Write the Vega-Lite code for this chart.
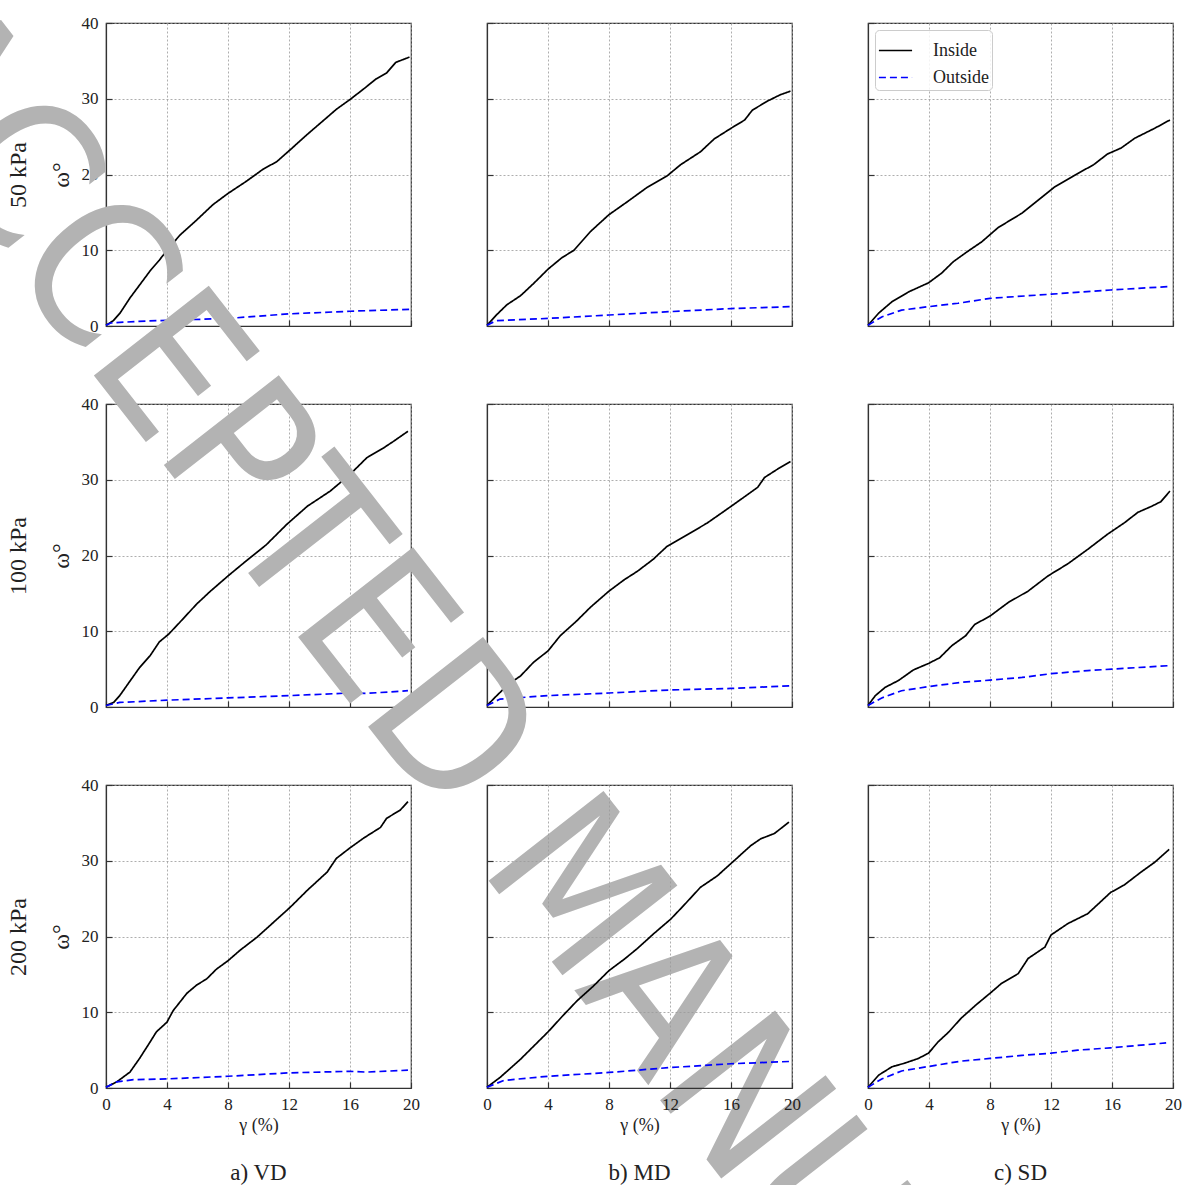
{
  "$schema": "https://vega.github.io/schema/vega-lite/v6.json",
  "padding": {"left": -178, "top": -30, "right": -130, "bottom": -570},
  "background": "white",
  "columns": 3,
  "bounds": "flush",
  "spacing": {"row": 78, "column": 76},
  "datasets": {
    "VD50": [
      {"s":"Inside","x":0,"y":0.1},{"s":"Inside","x":0.48,"y":0.7},{"s":"Inside","x":0.92,"y":1.7},{"s":"Inside","x":1.57,"y":3.7},{"s":"Inside","x":2.2,"y":5.4},{"s":"Inside","x":2.9,"y":7.3},{"s":"Inside","x":3.5,"y":8.7},{"s":"Inside","x":4.0,"y":10.0},{"s":"Inside","x":4.85,"y":12.0},{"s":"Inside","x":5.95,"y":14.0},{"s":"Inside","x":7.0,"y":16.0},{"s":"Inside","x":8.0,"y":17.5},{"s":"Inside","x":9.2,"y":19.1},{"s":"Inside","x":10.3,"y":20.7},{"s":"Inside","x":11.2,"y":21.7},{"s":"Inside","x":12.1,"y":23.3},{"s":"Inside","x":13.2,"y":25.3},{"s":"Inside","x":14.3,"y":27.2},{"s":"Inside","x":15.1,"y":28.6},{"s":"Inside","x":16.0,"y":29.9},{"s":"Inside","x":16.9,"y":31.3},{"s":"Inside","x":17.7,"y":32.6},{"s":"Inside","x":18.4,"y":33.4},{"s":"Inside","x":19.0,"y":34.8},{"s":"Inside","x":19.9,"y":35.5},
      {"s":"Outside","x":0,"y":0.1},{"s":"Outside","x":0.3,"y":0.4},{"s":"Outside","x":2,"y":0.6},{"s":"Outside","x":4,"y":0.75},{"s":"Outside","x":8,"y":1.0},{"s":"Outside","x":12,"y":1.6},{"s":"Outside","x":16,"y":1.95},{"s":"Outside","x":19.9,"y":2.2}
    ],
    "MD50": [
      {"s":"Inside","x":0,"y":0.1},{"s":"Inside","x":0.64,"y":1.5},{"s":"Inside","x":1.3,"y":2.8},{"s":"Inside","x":2.2,"y":4.0},{"s":"Inside","x":3.05,"y":5.6},{"s":"Inside","x":4.0,"y":7.5},{"s":"Inside","x":4.9,"y":9.0},{"s":"Inside","x":5.7,"y":10.0},{"s":"Inside","x":6.8,"y":12.5},{"s":"Inside","x":8.0,"y":14.7},{"s":"Inside","x":9.2,"y":16.4},{"s":"Inside","x":10.5,"y":18.3},{"s":"Inside","x":11.8,"y":19.8},{"s":"Inside","x":12.7,"y":21.3},{"s":"Inside","x":14.0,"y":23.0},{"s":"Inside","x":14.9,"y":24.7},{"s":"Inside","x":16.0,"y":26.1},{"s":"Inside","x":16.9,"y":27.2},{"s":"Inside","x":17.4,"y":28.5},{"s":"Inside","x":18.4,"y":29.7},{"s":"Inside","x":19.2,"y":30.5},{"s":"Inside","x":19.9,"y":31.0},
      {"s":"Outside","x":0,"y":0.1},{"s":"Outside","x":0.6,"y":0.7},{"s":"Outside","x":4,"y":1.0},{"s":"Outside","x":8,"y":1.45},{"s":"Outside","x":12,"y":1.9},{"s":"Outside","x":16,"y":2.3},{"s":"Outside","x":19.9,"y":2.55}
    ],
    "SD50": [
      {"s":"Inside","x":0,"y":0.1},{"s":"Inside","x":0.7,"y":1.7},{"s":"Inside","x":1.57,"y":3.2},{"s":"Inside","x":2.66,"y":4.5},{"s":"Inside","x":3.97,"y":5.7},{"s":"Inside","x":4.84,"y":7.0},{"s":"Inside","x":5.6,"y":8.5},{"s":"Inside","x":6.5,"y":9.8},{"s":"Inside","x":7.45,"y":11.1},{"s":"Inside","x":8.54,"y":13.0},{"s":"Inside","x":10.1,"y":14.9},{"s":"Inside","x":11.4,"y":17.0},{"s":"Inside","x":12.2,"y":18.3},{"s":"Inside","x":13.55,"y":19.9},{"s":"Inside","x":14.8,"y":21.3},{"s":"Inside","x":15.7,"y":22.7},{"s":"Inside","x":16.6,"y":23.5},{"s":"Inside","x":17.5,"y":24.8},{"s":"Inside","x":18.8,"y":26.1},{"s":"Inside","x":19.8,"y":27.2},
      {"s":"Outside","x":0,"y":0.1},{"s":"Outside","x":0.9,"y":1.2},{"s":"Outside","x":2.2,"y":2.1},{"s":"Outside","x":3.97,"y":2.55},{"s":"Outside","x":5.9,"y":3.0},{"s":"Outside","x":8.0,"y":3.65},{"s":"Outside","x":12.0,"y":4.2},{"s":"Outside","x":15.9,"y":4.75},{"s":"Outside","x":19.65,"y":5.2}
    ],
    "VD100": [
      {"s":"Inside","x":0,"y":0.2},{"s":"Inside","x":0.5,"y":0.6},{"s":"Inside","x":0.9,"y":1.5},{"s":"Inside","x":1.6,"y":3.5},{"s":"Inside","x":2.2,"y":5.2},{"s":"Inside","x":2.9,"y":6.8},{"s":"Inside","x":3.5,"y":8.6},{"s":"Inside","x":4.1,"y":9.6},{"s":"Inside","x":4.85,"y":11.2},{"s":"Inside","x":5.95,"y":13.6},{"s":"Inside","x":6.8,"y":15.2},{"s":"Inside","x":8.0,"y":17.3},{"s":"Inside","x":9.2,"y":19.3},{"s":"Inside","x":10.5,"y":21.4},{"s":"Inside","x":11.85,"y":24.1},{"s":"Inside","x":13.2,"y":26.5},{"s":"Inside","x":14.7,"y":28.5},{"s":"Inside","x":16.0,"y":30.7},{"s":"Inside","x":17.1,"y":32.9},{"s":"Inside","x":18.2,"y":34.2},{"s":"Inside","x":18.8,"y":35.0},{"s":"Inside","x":19.8,"y":36.4},
      {"s":"Outside","x":0,"y":0.2},{"s":"Outside","x":0.9,"y":0.6},{"s":"Outside","x":4,"y":0.9},{"s":"Outside","x":8,"y":1.2},{"s":"Outside","x":12,"y":1.5},{"s":"Outside","x":16,"y":1.85},{"s":"Outside","x":17.1,"y":1.8},{"s":"Outside","x":19.8,"y":2.15}
    ],
    "MD100": [
      {"s":"Inside","x":0,"y":0.2},{"s":"Inside","x":0.64,"y":1.5},{"s":"Inside","x":1.4,"y":3.0},{"s":"Inside","x":2.2,"y":4.1},{"s":"Inside","x":3.05,"y":5.9},{"s":"Inside","x":4.0,"y":7.4},{"s":"Inside","x":4.8,"y":9.4},{"s":"Inside","x":5.9,"y":11.4},{"s":"Inside","x":6.8,"y":13.2},{"s":"Inside","x":8.0,"y":15.3},{"s":"Inside","x":9.0,"y":16.8},{"s":"Inside","x":9.85,"y":17.9},{"s":"Inside","x":10.9,"y":19.5},{"s":"Inside","x":11.8,"y":21.2},{"s":"Inside","x":13.1,"y":22.7},{"s":"Inside","x":14.45,"y":24.3},{"s":"Inside","x":15.8,"y":26.2},{"s":"Inside","x":16.85,"y":27.7},{"s":"Inside","x":17.75,"y":29.0},{"s":"Inside","x":18.2,"y":30.3},{"s":"Inside","x":19.05,"y":31.4},{"s":"Inside","x":19.9,"y":32.4},
      {"s":"Outside","x":0,"y":0.2},{"s":"Outside","x":0.86,"y":1.05},{"s":"Outside","x":4,"y":1.5},{"s":"Outside","x":8,"y":1.85},{"s":"Outside","x":12,"y":2.25},{"s":"Outside","x":16,"y":2.45},{"s":"Outside","x":19.9,"y":2.8}
    ],
    "SD100": [
      {"s":"Inside","x":0,"y":0.2},{"s":"Inside","x":0.48,"y":1.5},{"s":"Inside","x":1.13,"y":2.6},{"s":"Inside","x":2.0,"y":3.5},{"s":"Inside","x":2.98,"y":4.9},{"s":"Inside","x":3.97,"y":5.75},{"s":"Inside","x":4.7,"y":6.5},{"s":"Inside","x":5.5,"y":8.1},{"s":"Inside","x":6.4,"y":9.4},{"s":"Inside","x":7.0,"y":10.9},{"s":"Inside","x":8.0,"y":12.0},{"s":"Inside","x":9.2,"y":13.8},{"s":"Inside","x":10.5,"y":15.3},{"s":"Inside","x":11.8,"y":17.3},{"s":"Inside","x":13.1,"y":18.9},{"s":"Inside","x":14.4,"y":20.8},{"s":"Inside","x":15.7,"y":22.8},{"s":"Inside","x":16.8,"y":24.3},{"s":"Inside","x":17.7,"y":25.7},{"s":"Inside","x":18.6,"y":26.5},{"s":"Inside","x":19.2,"y":27.1},{"s":"Inside","x":19.8,"y":28.5},
      {"s":"Outside","x":0,"y":0.2},{"s":"Outside","x":0.9,"y":1.2},{"s":"Outside","x":2.2,"y":2.15},{"s":"Outside","x":4.0,"y":2.7},{"s":"Outside","x":6.1,"y":3.25},{"s":"Outside","x":8,"y":3.55},{"s":"Outside","x":10.1,"y":3.9},{"s":"Outside","x":12,"y":4.4},{"s":"Outside","x":14.4,"y":4.8},{"s":"Outside","x":16,"y":5.0},{"s":"Outside","x":19.65,"y":5.45}
    ],
    "VD200": [
      {"s":"Inside","x":0,"y":0.1},{"s":"Inside","x":0.7,"y":0.8},{"s":"Inside","x":1.57,"y":2.1},{"s":"Inside","x":2.2,"y":3.9},{"s":"Inside","x":2.9,"y":6.1},{"s":"Inside","x":3.3,"y":7.4},{"s":"Inside","x":4.0,"y":8.7},{"s":"Inside","x":4.4,"y":10.2},{"s":"Inside","x":5.3,"y":12.5},{"s":"Inside","x":5.95,"y":13.6},{"s":"Inside","x":6.6,"y":14.4},{"s":"Inside","x":7.25,"y":15.7},{"s":"Inside","x":8.0,"y":16.8},{"s":"Inside","x":8.8,"y":18.2},{"s":"Inside","x":9.9,"y":19.9},{"s":"Inside","x":11.0,"y":21.9},{"s":"Inside","x":12.1,"y":23.9},{"s":"Inside","x":13.2,"y":26.1},{"s":"Inside","x":14.5,"y":28.5},{"s":"Inside","x":15.1,"y":30.3},{"s":"Inside","x":16.0,"y":31.7},{"s":"Inside","x":16.9,"y":33.0},{"s":"Inside","x":18.0,"y":34.4},{"s":"Inside","x":18.4,"y":35.6},{"s":"Inside","x":19.3,"y":36.7},{"s":"Inside","x":19.8,"y":37.8},
      {"s":"Outside","x":0,"y":0.1},{"s":"Outside","x":0.7,"y":0.8},{"s":"Outside","x":1.8,"y":1.1},{"s":"Outside","x":4,"y":1.2},{"s":"Outside","x":8,"y":1.55},{"s":"Outside","x":12,"y":2.0},{"s":"Outside","x":16,"y":2.2},{"s":"Outside","x":17.1,"y":2.1},{"s":"Outside","x":19.8,"y":2.35}
    ],
    "MD200": [
      {"s":"Inside","x":0,"y":0.1},{"s":"Inside","x":0.86,"y":1.4},{"s":"Inside","x":2.2,"y":3.8},{"s":"Inside","x":3.3,"y":6.0},{"s":"Inside","x":4.0,"y":7.4},{"s":"Inside","x":5.0,"y":9.6},{"s":"Inside","x":5.9,"y":11.5},{"s":"Inside","x":7.0,"y":13.5},{"s":"Inside","x":8.0,"y":15.5},{"s":"Inside","x":9.0,"y":17.0},{"s":"Inside","x":9.85,"y":18.4},{"s":"Inside","x":10.95,"y":20.4},{"s":"Inside","x":12.05,"y":22.3},{"s":"Inside","x":12.9,"y":24.1},{"s":"Inside","x":14.0,"y":26.5},{"s":"Inside","x":15.1,"y":28.0},{"s":"Inside","x":16.2,"y":30.0},{"s":"Inside","x":17.3,"y":32.0},{"s":"Inside","x":17.95,"y":32.9},{"s":"Inside","x":18.85,"y":33.6},{"s":"Inside","x":19.8,"y":35.1},
      {"s":"Outside","x":0,"y":0.1},{"s":"Outside","x":1.1,"y":1.0},{"s":"Outside","x":4,"y":1.55},{"s":"Outside","x":8,"y":2.05},{"s":"Outside","x":12,"y":2.7},{"s":"Outside","x":16,"y":3.2},{"s":"Outside","x":19.8,"y":3.5}
    ],
    "SD200": [
      {"s":"Inside","x":0,"y":0.1},{"s":"Inside","x":0.7,"y":1.7},{"s":"Inside","x":1.57,"y":2.8},{"s":"Inside","x":2.44,"y":3.3},{"s":"Inside","x":3.3,"y":3.9},{"s":"Inside","x":3.97,"y":4.6},{"s":"Inside","x":4.6,"y":6.1},{"s":"Inside","x":5.3,"y":7.4},{"s":"Inside","x":6.1,"y":9.2},{"s":"Inside","x":7.1,"y":11.0},{"s":"Inside","x":8.0,"y":12.5},{"s":"Inside","x":8.75,"y":13.8},{"s":"Inside","x":9.85,"y":15.1},{"s":"Inside","x":10.5,"y":17.1},{"s":"Inside","x":11.6,"y":18.6},{"s":"Inside","x":12.0,"y":20.2},{"s":"Inside","x":13.1,"y":21.7},{"s":"Inside","x":14.4,"y":23.0},{"s":"Inside","x":15.1,"y":24.3},{"s":"Inside","x":15.9,"y":25.8},{"s":"Inside","x":16.8,"y":26.8},{"s":"Inside","x":17.9,"y":28.5},{"s":"Inside","x":18.8,"y":29.8},{"s":"Inside","x":19.75,"y":31.5},
      {"s":"Outside","x":0,"y":0.1},{"s":"Outside","x":0.9,"y":1.2},{"s":"Outside","x":2.2,"y":2.25},{"s":"Outside","x":4,"y":2.85},{"s":"Outside","x":6.1,"y":3.55},{"s":"Outside","x":8,"y":3.9},{"s":"Outside","x":10.1,"y":4.3},{"s":"Outside","x":12,"y":4.6},{"s":"Outside","x":13.75,"y":5.0},{"s":"Outside","x":15.9,"y":5.3},{"s":"Outside","x":19.55,"y":5.95}
    ],
    "mark": [
      {"t": "ACCEPTED MANUSCRIPT", "x": -19.08, "y": -25.0}
    ]
  },
  "resolve": {
    "scale": {"color": "independent", "strokeDash": "independent"},
    "legend": {"color": "independent", "strokeDash": "independent"}
  },
  "concat": [
    {
      "width": 305, "height": 303,
      "data": {"name": "VD50"},
      "mark": {"type": "line", "strokeWidth": 1.7},
      "encoding": {
        "x": {"field": "x", "type": "quantitative", "scale": {"domain": [0, 20], "nice": false}, "axis": {"values": [0,4,8,12,16,20], "labels": false, "title": null}},
        "y": {"field": "y", "type": "quantitative", "scale": {"domain": [0, 40], "nice": false}, "axis": {"values": [0,10,20,30,40], "title": ["50 kPa", "ω°"]}},
        "color": {"field": "s", "type": "nominal", "scale": {"domain": ["Inside","Outside"], "range": ["#000000","#0000ff"]}, "legend": null},
        "strokeDash": {"field": "s", "type": "nominal", "scale": {"domain": ["Inside","Outside"], "range": [[1,0],[7,4]]}, "legend": null}
      }
    },
    {
      "width": 305, "height": 303,
      "data": {"name": "MD50"},
      "mark": {"type": "line", "strokeWidth": 1.7},
      "encoding": {
        "x": {"field": "x", "type": "quantitative", "scale": {"domain": [0, 20], "nice": false}, "axis": {"values": [0,4,8,12,16,20], "labels": false, "title": null}},
        "y": {"field": "y", "type": "quantitative", "scale": {"domain": [0, 40], "nice": false}, "axis": {"values": [0,10,20,30,40], "labels": false, "title": null}},
        "color": {"field": "s", "type": "nominal", "scale": {"domain": ["Inside","Outside"], "range": ["#000000","#0000ff"]}, "legend": null},
        "strokeDash": {"field": "s", "type": "nominal", "scale": {"domain": ["Inside","Outside"], "range": [[1,0],[7,4]]}, "legend": null}
      }
    },
    {
      "width": 305, "height": 303,
      "data": {"name": "SD50"},
      "mark": {"type": "line", "strokeWidth": 1.7},
      "encoding": {
        "x": {"field": "x", "type": "quantitative", "scale": {"domain": [0, 20], "nice": false}, "axis": {"values": [0,4,8,12,16,20], "labels": false, "title": null}},
        "y": {"field": "y", "type": "quantitative", "scale": {"domain": [0, 40], "nice": false}, "axis": {"values": [0,10,20,30,40], "labels": false, "title": null}},
        "color": {"field": "s", "type": "nominal", "scale": {"domain": ["Inside","Outside"], "range": ["#000000","#0000ff"]}, "legend": {"title": null, "orient": "top-left"}},
        "strokeDash": {"field": "s", "type": "nominal", "scale": {"domain": ["Inside","Outside"], "range": [[1,0],[7,4]]}, "legend": {"title": null, "orient": "top-left"}}
      }
    },
    {
      "width": 305, "height": 303,
      "data": {"name": "VD100"},
      "mark": {"type": "line", "strokeWidth": 1.7},
      "encoding": {
        "x": {"field": "x", "type": "quantitative", "scale": {"domain": [0, 20], "nice": false}, "axis": {"values": [0,4,8,12,16,20], "labels": false, "title": null}},
        "y": {"field": "y", "type": "quantitative", "scale": {"domain": [0, 40], "nice": false}, "axis": {"values": [0,10,20,30,40], "title": ["100 kPa", "ω°"]}},
        "color": {"field": "s", "type": "nominal", "scale": {"domain": ["Inside","Outside"], "range": ["#000000","#0000ff"]}, "legend": null},
        "strokeDash": {"field": "s", "type": "nominal", "scale": {"domain": ["Inside","Outside"], "range": [[1,0],[7,4]]}, "legend": null}
      }
    },
    {
      "width": 305, "height": 303,
      "data": {"name": "MD100"},
      "mark": {"type": "line", "strokeWidth": 1.7},
      "encoding": {
        "x": {"field": "x", "type": "quantitative", "scale": {"domain": [0, 20], "nice": false}, "axis": {"values": [0,4,8,12,16,20], "labels": false, "title": null}},
        "y": {"field": "y", "type": "quantitative", "scale": {"domain": [0, 40], "nice": false}, "axis": {"values": [0,10,20,30,40], "labels": false, "title": null}},
        "color": {"field": "s", "type": "nominal", "scale": {"domain": ["Inside","Outside"], "range": ["#000000","#0000ff"]}, "legend": null},
        "strokeDash": {"field": "s", "type": "nominal", "scale": {"domain": ["Inside","Outside"], "range": [[1,0],[7,4]]}, "legend": null}
      }
    },
    {
      "width": 305, "height": 303,
      "encoding": {
        "x": {"field": "x", "type": "quantitative", "scale": {"domain": [0, 20], "nice": false}, "axis": {"values": [0,4,8,12,16,20], "labels": false, "title": null}},
        "y": {"field": "y", "type": "quantitative", "scale": {"domain": [0, 40], "nice": false}, "axis": {"values": [0,10,20,30,40], "labels": false, "title": null}}
      },
      "layer": [
        {
          "data": {"name": "SD100"},
          "mark": {"type": "line", "strokeWidth": 1.7},
          "encoding": {
            "color": {"field": "s", "type": "nominal", "scale": {"domain": ["Inside","Outside"], "range": ["#000000","#0000ff"]}, "legend": null},
            "strokeDash": {"field": "s", "type": "nominal", "scale": {"domain": ["Inside","Outside"], "range": [[1,0],[7,4]]}, "legend": null}
          }
        },
        {
          "data": {"name": "mark"},
          "mark": {"type": "text", "angle": 52, "align": "center", "baseline": "middle", "font": "DejaVu Sans Condensed, Liberation Sans Narrow, DejaVu Sans", "fontSize": 200, "color": "#b3b3b3"},
          "encoding": {"text": {"field": "t"}}
        }
      ]
    },
    {
      "width": 305, "height": 303,
      "title": {"text": "a) VD", "orient": "bottom"},
      "data": {"name": "VD200"},
      "mark": {"type": "line", "strokeWidth": 1.7},
      "encoding": {
        "x": {"field": "x", "type": "quantitative", "scale": {"domain": [0, 20], "nice": false}, "axis": {"values": [0,4,8,12,16,20], "title": "γ (%)"}},
        "y": {"field": "y", "type": "quantitative", "scale": {"domain": [0, 40], "nice": false}, "axis": {"values": [0,10,20,30,40], "title": ["200 kPa", "ω°"]}},
        "color": {"field": "s", "type": "nominal", "scale": {"domain": ["Inside","Outside"], "range": ["#000000","#0000ff"]}, "legend": null},
        "strokeDash": {"field": "s", "type": "nominal", "scale": {"domain": ["Inside","Outside"], "range": [[1,0],[7,4]]}, "legend": null}
      }
    },
    {
      "width": 305, "height": 303,
      "title": {"text": "b) MD", "orient": "bottom"},
      "data": {"name": "MD200"},
      "mark": {"type": "line", "strokeWidth": 1.7},
      "encoding": {
        "x": {"field": "x", "type": "quantitative", "scale": {"domain": [0, 20], "nice": false}, "axis": {"values": [0,4,8,12,16,20], "title": "γ (%)"}},
        "y": {"field": "y", "type": "quantitative", "scale": {"domain": [0, 40], "nice": false}, "axis": {"values": [0,10,20,30,40], "labels": false, "title": null}},
        "color": {"field": "s", "type": "nominal", "scale": {"domain": ["Inside","Outside"], "range": ["#000000","#0000ff"]}, "legend": null},
        "strokeDash": {"field": "s", "type": "nominal", "scale": {"domain": ["Inside","Outside"], "range": [[1,0],[7,4]]}, "legend": null}
      }
    },
    {
      "width": 305, "height": 303,
      "title": {"text": "c) SD", "orient": "bottom"},
      "data": {"name": "SD200"},
      "mark": {"type": "line", "strokeWidth": 1.7},
      "encoding": {
        "x": {"field": "x", "type": "quantitative", "scale": {"domain": [0, 20], "nice": false}, "axis": {"values": [0,4,8,12,16,20], "title": "γ (%)"}},
        "y": {"field": "y", "type": "quantitative", "scale": {"domain": [0, 40], "nice": false}, "axis": {"values": [0,10,20,30,40], "labels": false, "title": null}},
        "color": {"field": "s", "type": "nominal", "scale": {"domain": ["Inside","Outside"], "range": ["#000000","#0000ff"]}, "legend": null},
        "strokeDash": {"field": "s", "type": "nominal", "scale": {"domain": ["Inside","Outside"], "range": [[1,0],[7,4]]}, "legend": null}
      }
    }
  ],
  "config": {
    "font": "Liberation Serif",
    "view": {"stroke": "#333333", "strokeWidth": 1.2},
    "axis": {
      "domainColor": "#333333",
      "domainWidth": 1.2,
      "tickColor": "#333333",
      "tickSize": -6,
      "tickWidth": 1.2,
      "labelFont": "Liberation Serif",
      "labelFontSize": 17,
      "labelColor": "#222222",
      "labelPadding": 14,
      "labelFlush": false,
      "gridColor": "#999999",
      "gridDash": [2, 2],
      "gridWidth": 0.8,
      "titleFont": "Liberation Serif",
      "titleFontSize": 19,
      "titleFontWeight": "normal",
      "titleColor": "#222222"
    },
    "axisY": {"titleLineHeight": 43, "titleFontSize": 24, "titlePadding": 8},
    "axisX": {"titleFontSize": 18, "titlePadding": 4},
    "title": {"font": "Liberation Serif", "fontSize": 23, "fontWeight": "normal", "color": "#222222", "offset": 28},
    "legend": {
      "offset": 7,
      "padding": 3,
      "fillColor": "rgba(255,255,255,0.85)",
      "strokeColor": "#cccccc",
      "cornerRadius": 4,
      "symbolType": "stroke",
      "symbolSize": 1100,
      "symbolStrokeWidth": 1.7,
      "labelFont": "Liberation Serif",
      "labelFontSize": 18,
      "labelColor": "#222222",
      "rowPadding": -8,
      "labelOffset": 20
    }
  }
}
